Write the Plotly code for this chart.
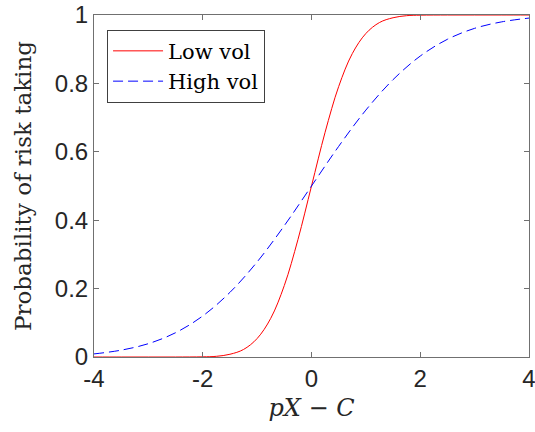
import plotly.graph_objects as go

x_low = [-4.0, -3.5, -3.0, -2.5, -2.0, -1.75, -1.5, -1.25, -1.0, -0.75, -0.5, -0.25,
         0.0, 0.25, 0.5, 0.75, 1.0, 1.25, 1.5, 1.75, 2.0, 2.5, 3.0, 3.5, 4.0]
y_low = [0.0, 0.0, 0.0, 0.0, 0.0005, 0.002, 0.008, 0.022, 0.054, 0.113, 0.209, 0.343,
         0.5, 0.657, 0.791, 0.887, 0.946, 0.978, 0.992, 0.998, 0.9995, 1.0, 1.0, 1.0, 1.0]

x_high = [-4.0, -3.5, -3.0, -2.5, -2.0, -1.5, -1.0, -0.5, 0.0,
          0.5, 1.0, 1.5, 2.0, 2.5, 3.0, 3.5, 4.0]
y_high = [0.009, 0.020, 0.039, 0.071, 0.120, 0.189, 0.278, 0.384, 0.5,
          0.616, 0.722, 0.811, 0.880, 0.929, 0.961, 0.980, 0.991]

x_ticks = [-4, -2, 0, 2, 4]
x_ticktext = ["-4", "-2", "0", "2", "4"]
y_ticks = [0, 0.2, 0.4, 0.6, 0.8, 1]
y_ticktext = ["0", "0.2", "0.4", "0.6", "0.8", "1"]

SERIF = "DejaVu Serif"

fig = go.Figure()
fig.add_trace(go.Scatter(x=x_low, y=y_low, mode="lines", name="Low vol",
                         line=dict(color="rgb(255,0,0)", width=1, shape="spline")))
fig.add_trace(go.Scatter(x=x_high, y=y_high, mode="lines", name="High vol",
                         line=dict(color="rgb(0,0,255)", width=1, dash="10px,5px", shape="spline")))

axis_common = dict(showline=True, linecolor="#707070", linewidth=1, mirror="ticks",
                   ticks="inside", ticklen=5, tickcolor="#707070", showgrid=False,
                   zeroline=False, automargin=False, ticklabeloverflow="allow",
                   tickfont=dict(family="Liberation Sans, Arial", size=24, color="#262626"))

fig.update_layout(
    width=535, height=432,
    margin=dict(l=94, r=6, t=15, b=75),
    plot_bgcolor="white", paper_bgcolor="white",
    xaxis=dict(range=[-4, 4], tickvals=x_ticks, ticktext=x_ticktext,
               title=dict(text="<i>pX</i> − <i>C</i>", standoff=8,
                          font=dict(family=SERIF, size=24, color="#262626")),
               **axis_common),
    yaxis=dict(range=[0, 1], tickvals=y_ticks, ticktext=y_ticktext,
               title=dict(text="Probability of risk taking", standoff=16,
                          font=dict(family=SERIF, size=23, color="#262626")),
               **axis_common),
    legend=dict(x=0.03, y=0.957, xanchor="left", yanchor="top",
                bgcolor="white", bordercolor="#404040", borderwidth=1,
                font=dict(family=SERIF, size=21, color="black"),
                itemwidth=50, tracegroupgap=0),
    showlegend=True,
)

fig.write_html("out.html")
